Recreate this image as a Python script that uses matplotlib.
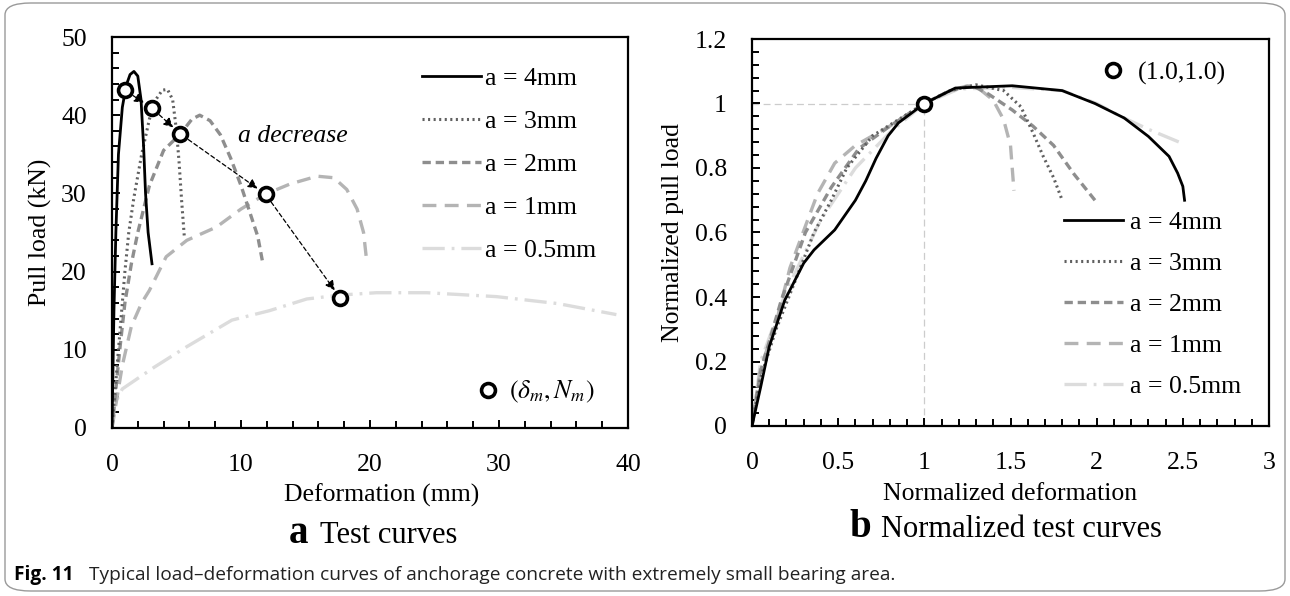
import numpy as np
import matplotlib
matplotlib.use("Agg")
import matplotlib.pyplot as plt
from matplotlib.patches import FancyBboxPatch
from matplotlib.ticker import MultipleLocator, FuncFormatter

plt.rcParams['font.family'] = ['Liberation Serif', 'DejaVu Serif']
plt.rcParams['mathtext.fontset'] = 'stix'
plt.rcParams['lines.scale_dashes'] = False

# ---- data: (a) test curves, deformation (mm) vs pull load (kN)
labels = ['a = 4mm', 'a = 3mm', 'a = 2mm', 'a = 1mm', 'a = 0.5mm']

x_4mm = [0, 0.05, 0.15, 0.3, 0.5, 0.8, 1.1, 1.4, 1.7, 2.0, 2.25, 2.45, 2.6, 2.8, 3.1]
y_4mm = [0, 5, 15, 25, 35, 41, 43.8, 45.2, 45.6, 45, 42, 36, 30, 25, 21]
x_3mm = [0, 0.3, 0.6, 1.0, 1.3, 1.7, 2.3, 2.9, 3.4, 3.9, 4.3, 4.7, 5.0, 5.2, 5.4, 5.6]
y_3mm = [0, 6, 12, 20, 25, 29.5, 35, 39.5, 42, 43.2, 43.3, 42, 38, 34, 29, 24.6]
x_2mm = [0, 0.3, 0.6, 1.0, 1.5, 2.0, 2.9, 4.0, 5.3, 6.2, 6.8, 7.6, 8.4, 9.2, 10.0, 10.7, 11.3, 11.7]
y_2mm = [0, 5, 10, 16, 21, 25, 31, 35.5, 37.6, 39.5, 40, 39.3, 37.5, 34.5, 31, 27.5, 24.5, 21]
x_1mm = [0, 0.3, 0.8, 1.5, 2.3, 2.9, 4.2, 5.8, 8.1, 10.0, 11.9, 13.8, 15.9, 17.2, 18.2, 19.0, 19.5, 19.7]
y_1mm = [0, 3, 8, 13, 16, 17.6, 21.9, 24, 25.7, 28, 29.9, 31.2, 32.2, 32, 30.5, 28, 25, 22]
x_05mm = [0, 0.2, 0.8, 3.3, 5.8, 9.3, 12.2, 15.1, 17.7, 20.5, 24.4, 29.8, 34.6, 39.1]
y_05mm = [0, 3, 5, 7.8, 10.4, 13.8, 15, 16.5, 17, 17.3, 17.3, 16.8, 15.9, 14.5]

# peak points (delta_m, N_m)
peak_x = [1.0, 3.1, 5.3, 11.9, 17.7]
peak_y = [43.2, 40.9, 37.6, 29.9, 16.6]

# ---- data: (b) normalized curves
nx_4mm = [0, 0.05, 0.1, 0.19, 0.3, 0.36, 0.48, 0.6, 0.66, 0.72, 0.79, 0.85, 1.0, 1.18, 1.51,
          1.8, 1.99, 2.16, 2.3, 2.42, 2.47, 2.5, 2.51]
ny_4mm = [0, 0.12, 0.246, 0.39, 0.505, 0.546, 0.608, 0.70, 0.76, 0.83, 0.90, 0.94, 1.0, 1.048, 1.055,
          1.04, 1.0, 0.955, 0.898, 0.836, 0.784, 0.743, 0.70]
nx_3mm = [0, 0.05, 0.14, 0.28, 0.36, 0.46, 0.55, 0.7, 0.85, 1.0, 1.15, 1.3, 1.46, 1.56, 1.63, 1.69, 1.75, 1.8]
ny_3mm = [0, 0.15, 0.30, 0.49, 0.60, 0.70, 0.80, 0.90, 0.95, 1.0, 1.04, 1.058, 1.04, 0.99, 0.91, 0.836, 0.77, 0.70]
nx_2mm = [0, 0.05, 0.17, 0.31, 0.46, 0.62, 0.8, 1.0, 1.15, 1.28, 1.37, 1.51, 1.63, 1.75, 1.87, 1.99]
ny_2mm = [0, 0.17, 0.39, 0.60, 0.74, 0.86, 0.93, 1.0, 1.04, 1.055, 1.03, 0.98, 0.93, 0.87, 0.78, 0.70]
nx_1mm = [0, 0.05, 0.14, 0.22, 0.31, 0.38, 0.48, 0.6, 0.8, 1.0, 1.15, 1.25, 1.32, 1.4, 1.46, 1.5, 1.51, 1.52]
ny_1mm = [0, 0.18, 0.32, 0.49, 0.62, 0.72, 0.815, 0.87, 0.93, 1.0, 1.04, 1.055, 1.045, 1.01, 0.95, 0.87, 0.80, 0.73]
nx_05mm = [0, 0.05, 0.2, 0.4, 0.6, 0.8, 1.0, 1.2, 1.5, 1.8, 2.0, 2.14, 2.3, 2.48]
ny_05mm = [0, 0.2, 0.42, 0.64, 0.80, 0.91, 1.0, 1.045, 1.05, 1.04, 1.0, 0.96, 0.92, 0.88]

norm_x = [1.0]
norm_y = [1.0]

# line styles: (color, linewidth, dash pattern in points)
styles = [
    ('black', 2.0, '-'),
    ('#606060', 2.2, (0, (1.5, 2.5))),
    ('#8e8e8e', 2.4, (0, (6, 3.5))),
    ('#b4b4b4', 2.4, (0, (10, 6))),
    ('#dcdcdc', 2.4, (0, (16, 5, 2, 5))),
]

fig = plt.figure(figsize=(12.9, 5.96), dpi=100)

# rounded frame around the whole figure
frame = FancyBboxPatch((5 / 1290, 5 / 596), 1280 / 1290, 588 / 596,
                       boxstyle='round,pad=0,rounding_size=0.02', transform=fig.transFigure,
                       facecolor='none', edgecolor='#9a9a9a', lw=1.0)
fig.patches.append(frame)

ax1 = fig.add_axes([112 / 1290, 1 - 428 / 596, 516 / 1290, 391 / 596])
ax2 = fig.add_axes([752 / 1290, 1 - 426 / 596, 517 / 1290, 387 / 596])

FS = 18.5

curves_a = [(x_4mm, y_4mm), (x_3mm, y_3mm), (x_2mm, y_2mm), (x_1mm, y_1mm), (x_05mm, y_05mm)]
curves_b = [(nx_4mm, ny_4mm), (nx_3mm, ny_3mm), (nx_2mm, ny_2mm), (nx_1mm, ny_1mm), (nx_05mm, ny_05mm)]

# draw lightest curves first so darker ones sit on top
h1 = [None] * 5
h2 = [None] * 5
for i in range(4, -1, -1):
    c, lw, ls = styles[i]
    h1[i], = ax1.plot(*curves_a[i], color=c, lw=lw, ls=ls, label=labels[i])
    h2[i], = ax2.plot(*curves_b[i], color=c, lw=lw, ls=ls, label=labels[i])

# arrows between successive peaks
for i in range(len(peak_x) - 1):
    ax1.annotate('', xy=(peak_x[i + 1], peak_y[i + 1]), xytext=(peak_x[i], peak_y[i]),
                 arrowprops=dict(arrowstyle='-|>', color='black', lw=0.9, ls=(0, (3, 2)),
                                 mutation_scale=14, shrinkA=7, shrinkB=7))
mk1, = ax1.plot(peak_x, peak_y, 'o', ms=10, mfc='white', mec='black', mew=2.6, zorder=5)
ax1.text(14, 37.4, 'a decrease', fontsize=FS, style='italic', ha='center', va='center')

# reference lines through (1,1)
ax2.plot([0, norm_x[0]], [norm_y[0], norm_y[0]], color='#cccccc', lw=0.9, ls=(0, (5, 3)), zorder=1)
ax2.plot([norm_x[0], norm_x[0]], [0, norm_y[0]], color='#cccccc', lw=0.9, ls=(0, (5, 3)), zorder=1)
mk2, = ax2.plot(norm_x, norm_y, 'o', ms=10, mfc='white', mec='black', mew=2.6, zorder=5)

# axes setup
fmt = FuncFormatter(lambda v, p: '%g' % round(v, 2))
ax1.set_xlim(0, 40)
ax1.set_ylim(0, 50)
ax1.xaxis.set_major_locator(MultipleLocator(10))
ax1.xaxis.set_minor_locator(MultipleLocator(2))
ax1.yaxis.set_major_locator(MultipleLocator(10))
ax1.yaxis.set_minor_locator(MultipleLocator(2))
ax2.set_xlim(0, 3)
ax2.set_ylim(0, 1.2)
ax2.xaxis.set_major_locator(MultipleLocator(0.5))
ax2.xaxis.set_minor_locator(MultipleLocator(0.1))
ax2.yaxis.set_major_locator(MultipleLocator(0.2))
ax2.yaxis.set_minor_locator(MultipleLocator(0.04))

for ax in (ax1, ax2):
    ax.xaxis.set_major_formatter(fmt)
    ax.yaxis.set_major_formatter(fmt)
    for s in ax.spines.values():
        s.set_linewidth(1.6)
    ax.tick_params(which='both', direction='in', top=False, right=False, width=1.4, labelsize=FS)
    ax.tick_params(which='major', length=6)
    ax.tick_params(which='minor', length=5)
    ax.tick_params(axis='x', which='major', pad=19)
    ax.tick_params(axis='y', which='major', pad=18)

ax1.set_xlabel('Deformation (mm)', fontsize=FS)
ax1.set_ylabel('Pull load (kN)', fontsize=FS)
ax2.set_xlabel('Normalized deformation', fontsize=FS)
ax2.set_ylabel('Normalized pull load', fontsize=FS)
ax1.xaxis.set_label_coords(0.523, -0.142)
ax2.xaxis.set_label_coords(0.5, -0.148)
ax1.yaxis.set_label_coords(-0.116, 0.5)
ax2.yaxis.set_label_coords(-0.1315, 0.5)

# legends
leg_kw = dict(frameon=False, fontsize=FS, borderpad=0, borderaxespad=0, handlelength=2.3)
lg1 = ax1.legend(handles=h1, loc='center left', bbox_to_anchor=(0.601, 0.673),
                 labelspacing=0.78, handletextpad=0.15, **leg_kw)
ax1.add_artist(lg1)
ax1.legend([mk1], [r'$(\delta_m, N_m)$'], loc='center left', bbox_to_anchor=(0.709, 0.092),
           frameon=False, fontsize=FS, borderpad=0, borderaxespad=0, handlelength=0.8,
           handletextpad=0.4, numpoints=1)

lg2 = ax2.legend(handles=h2, loc='center left', bbox_to_anchor=(0.603, 0.315),
                 labelspacing=0.7, handletextpad=0.27, **leg_kw)
ax2.add_artist(lg2)
ax2.legend([mk2], ['(1.0,1.0)'], loc='center left', bbox_to_anchor=(0.679, 0.912),
           frameon=False, fontsize=FS, borderpad=0, borderaxespad=0, handlelength=0.8,
           handletextpad=0.55, numpoints=1)

# panel titles
fig.text(289 / 1290, 1 - 543 / 596, 'a', fontsize=28, fontweight='bold', va='baseline')
fig.text(320 / 1290, 1 - 543 / 596, 'Test curves', fontsize=22, va='baseline')
fig.text(849 / 1290, 1 - 537 / 596, 'b', fontsize=28, fontweight='bold', va='baseline')
fig.text(881 / 1290, 1 - 537 / 596, 'Normalized test curves', fontsize=22, va='baseline')

# caption
cap_font = ['Open Sans', 'DejaVu Sans']
fig.text(14 / 1290, 1 - 580 / 596, 'Fig. 11', fontsize=13.8, fontweight='bold', family=cap_font,
         va='baseline')
fig.text(89 / 1290, 1 - 580 / 596,
         'Typical load\u2013deformation curves of anchorage concrete with extremely small bearing area.',
         fontsize=13.8, family=cap_font, va='baseline', color='#222222')

fig.savefig('out.png', dpi=100)
